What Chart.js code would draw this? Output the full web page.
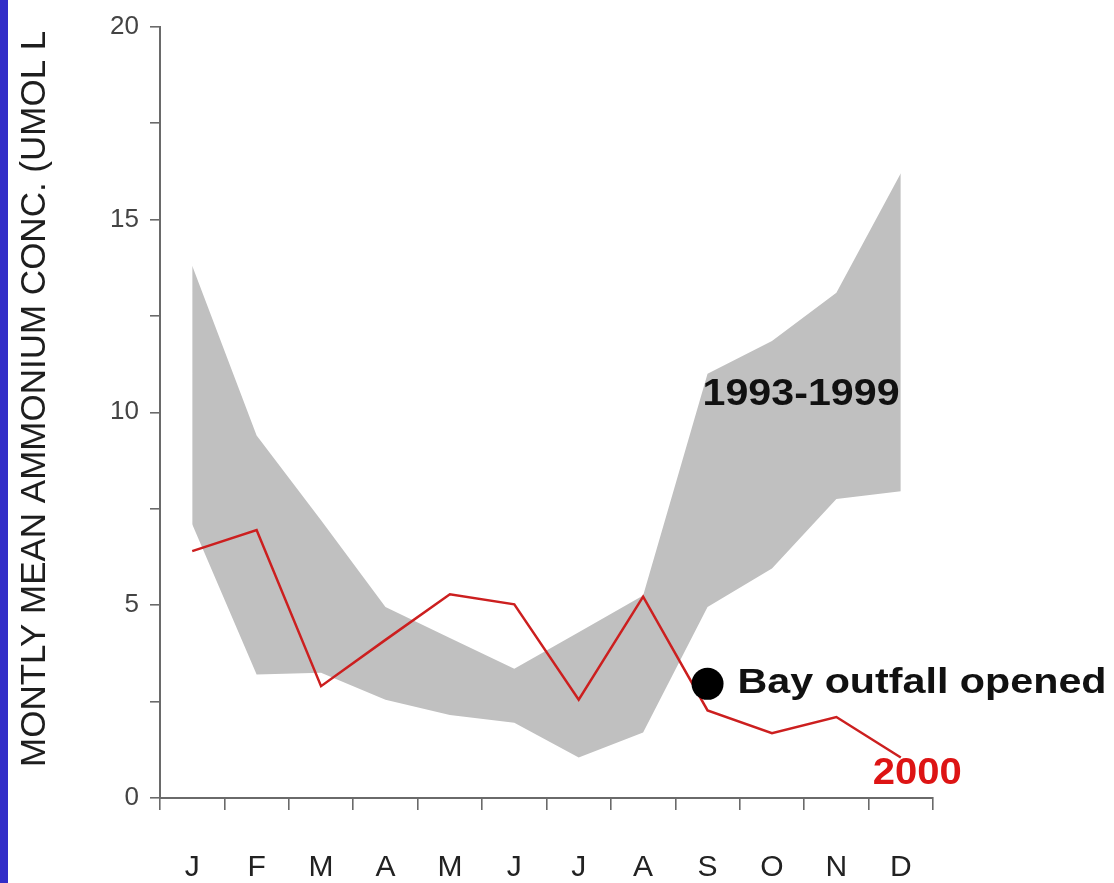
<!DOCTYPE html>
<html>
<head>
<meta charset="utf-8">
<title>Monthly mean ammonium concentration</title>
<script src="https://cdn.jsdelivr.net/npm/chart.js@4.4.1/dist/chart.umd.min.js"></script>
<style>
  html, body { margin: 0; padding: 0; background: #ffffff; }
  #wrap { position: relative; width: 1114px; height: 883px; overflow: hidden; }
  #stripe { position: absolute; left: 0; top: 0; width: 8px; height: 883px; background: #322dc8; }
  canvas { display: block; }
</style>
</head>
<body>
<div id="wrap">
  <canvas id="chart" width="1114" height="883"></canvas>
  <div id="stripe"></div>
</div>
<script>
// Month initials along the x axis
const months = ['J', 'F', 'M', 'A', 'M', 'J', 'J', 'A', 'S', 'O', 'N', 'D'];

// 1993-1999 envelope of monthly means (µmol/L)
const range9399Upper = [13.8, 9.4, 7.2, 4.95, 4.15, 3.35, 4.3, 5.25, 11.0, 11.85, 13.1, 16.2];
const range9399Lower = [7.1, 3.2, 3.25, 2.55, 2.15, 1.95, 1.05, 1.7, 4.95, 5.95, 7.75, 7.95];

// 2000 monthly means (µmol/L)
const year2000 = [6.4, 6.95, 2.9, 4.1, 5.28, 5.02, 2.55, 5.22, 2.27, 1.68, 2.1, 1.05];

// Outfall opening marker (September)
const outfallMonthIndex = 8;
const outfallValue = 2.96;
const outfallMarker = months.map((m, i) => (i === outfallMonthIndex ? outfallValue : null));

// Y tick values
const yMin = 0, yMax = 20, yStep = 2.5, yLabelEvery = 5;

const AXIS = '#6a6a6a';
const FONT = "'Liberation Sans', Arial, Helvetica, sans-serif";

// Draws text with a given font, stretched horizontally to a given width
function stretchedText(ctx, text, x, y, font, color, width) {
  ctx.save();
  ctx.font = font;
  ctx.fillStyle = color;
  ctx.textAlign = 'left';
  ctx.textBaseline = 'middle';
  const w = ctx.measureText(text).width;
  ctx.translate(x, y);
  ctx.scale(width / w, 1);
  ctx.fillText(text, 0, 0);
  ctx.restore();
}

const annotations = {
  id: 'annotations',
  afterDatasetsDraw(chart) {
    const ctx = chart.ctx;
    const xs = chart.scales.x, ys = chart.scales.y;
    const sepX = xs.getPixelForValue(outfallMonthIndex);
    const decX = xs.getPixelForValue(11);

    // Envelope label
    stretchedText(ctx, '1993-1999', sepX - 5, ys.getPixelForValue(10.45),
      'bold 37px ' + FONT, '#111111', 197);

    // Outfall label next to the marker
    stretchedText(ctx, 'Bay outfall opened', sepX + 30, ys.getPixelForValue(outfallValue),
      'bold 35px ' + FONT, '#111111', 369);

    // Year label under the end of the 2000 line
    stretchedText(ctx, '2000', decX - 28, ys.getPixelForValue(year2000[11]) + 17,
      'bold 36px ' + FONT, '#dd1414', 89);
  },
  afterDraw(chart) {
    // Y axis title, reading bottom to top
    const ctx = chart.ctx;
    ctx.save();
    ctx.translate(35, 767);
    ctx.rotate(-Math.PI / 2);
    ctx.font = '35px ' + FONT;
    ctx.fillStyle = '#1e1e1e';
    ctx.textAlign = 'left';
    ctx.textBaseline = 'middle';
    ctx.fillText('MONTLY MEAN AMMONIUM CONC. (UMOL L', 0, 0);
    ctx.restore();
  }
};

new Chart(document.getElementById('chart'), {
  type: 'line',
  data: {
    labels: months,
    datasets: [
      {
        label: 'Outfall opened',
        data: outfallMarker,
        showLine: false,
        pointRadius: 16,
        pointHoverRadius: 16,
        pointBackgroundColor: '#000000',
        pointBorderWidth: 0,
        borderColor: '#000000'
      },
      {
        label: '2000',
        data: year2000,
        borderColor: '#cc1f1f',
        borderWidth: 2.5,
        pointRadius: 0,
        tension: 0,
        fill: false
      },
      {
        label: '1993-1999 max',
        data: range9399Upper,
        borderWidth: 0,
        borderColor: 'rgba(0,0,0,0)',
        backgroundColor: '#c0c0c0',
        pointRadius: 0,
        tension: 0,
        fill: '+1'
      },
      {
        label: '1993-1999 min',
        data: range9399Lower,
        borderWidth: 0,
        borderColor: 'rgba(0,0,0,0)',
        pointRadius: 0,
        tension: 0,
        fill: false
      }
    ]
  },
  options: {
    responsive: false,
    animation: false,
    events: [],
    layout: { padding: { top: 23, right: 181, left: 0, bottom: 0 } },
    plugins: {
      legend: { display: false },
      tooltip: { enabled: false },
      filler: { propagate: false }
    },
    scales: {
      x: {
        type: 'category',
        offset: true,
        afterFit(scale) { scale.height = 85; },
        grid: {
          offset: true,
          drawOnChartArea: false,
          drawTicks: true,
          tickLength: 12,
          color: AXIS,
          lineWidth: 1.6
        },
        border: { display: true, color: AXIS, width: 2 },
        ticks: {
          autoSkip: false,
          maxRotation: 0,
          padding: 40,
          color: '#222222',
          font: { family: FONT, size: 30 }
        }
      },
      y: {
        min: yMin,
        max: yMax,
        afterFit(scale) { scale.width = 160; },
        grid: {
          drawOnChartArea: false,
          drawTicks: true,
          tickLength: 10,
          color: AXIS,
          lineWidth: 1.6
        },
        border: { display: true, color: AXIS, width: 2 },
        ticks: {
          stepSize: yStep,
          padding: 11,
          color: '#444444',
          font: { family: FONT, size: 26 },
          callback: (v) => (v % yLabelEvery === 0 ? String(v) : '')
        }
      }
    }
  },
  plugins: [annotations]
});
</script>
</body>
</html>
